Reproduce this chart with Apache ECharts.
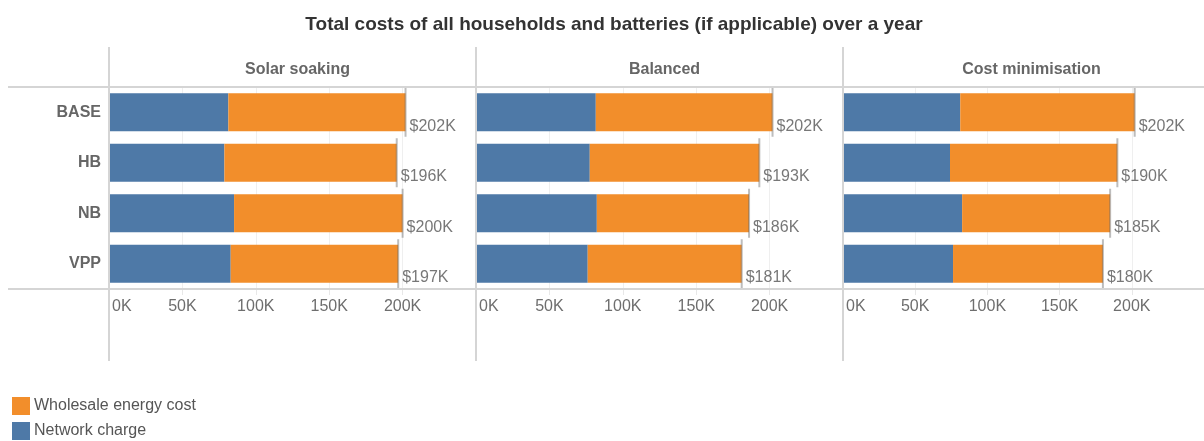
<!DOCTYPE html>
<html>
<head>
<meta charset="utf-8">
<script src="https://cdn.jsdelivr.net/npm/echarts@6/dist/echarts.min.js"></script>
<style>
html,body{margin:0;padding:0;background:#fff;}
#chart{width:1204px;height:441px;}
</style>
</head>
<body>
<div id="chart"></div>
<script>
// ---- data (values in thousands of dollars) ----
const titleText = 'Total costs of all households and batteries (if applicable) over a year';
const categories = ['BASE', 'HB', 'NB', 'VPP'];
const panelNames = ['Solar soaking', 'Balanced', 'Cost minimisation'];
const seriesNames = ['Wholesale energy cost', 'Network charge'];
const xTicks = [0, 50, 100, 150, 200, 250];

const networkSolar = [81.3, 78.6, 85.2, 82.9];
const wholesaleSolar = [120.7, 117.4, 114.8, 114.1];
const totalSolar = [202, 196, 200, 197];

const networkBalanced = [81.6, 77.5, 82.3, 76.1];
const wholesaleBalanced = [120.4, 115.5, 103.7, 104.9];
const totalBalanced = [202, 193, 186, 181];

const networkCostMin = [81.2, 74.1, 82.5, 76.2];
const wholesaleCostMin = [120.8, 115.9, 102.5, 103.8];
const totalCostMin = [202, 190, 185, 180];

// ---- layout / style ----
const FONT = '"Liberation Sans", Arial, sans-serif';
const BLUE = '#4e79a7';
const ORANGE = '#f28e2b';
const panelLeft = [109, 476, 843];
const panelWidth = 367;
const gridTop = 87;
const gridHeight = 202;

const panels = [
  {network: networkSolar, wholesale: wholesaleSolar, total: totalSolar},
  {network: networkBalanced, wholesale: wholesaleBalanced, total: totalBalanced},
  {network: networkCostMin, wholesale: wholesaleCostMin, total: totalCostMin}
];

const grids = [], xAxes = [], yAxes = [], series = [], titles = [];

titles.push({
  text: titleText,
  left: 609, top: 10, textAlign: 'center',
  textStyle: {fontFamily: FONT, fontSize: 19, fontWeight: 'bold', color: '#333'}
});

panels.forEach((p, i) => {
  grids.push({left: panelLeft[i], top: gridTop, width: panelWidth, height: gridHeight, containLabel: false});
  titles.push({
    text: panelNames[i],
    left: panelLeft[i] + panelWidth / 2, top: 57, textAlign: 'center',
    textStyle: {fontFamily: FONT, fontSize: 16, fontWeight: 'bold', color: '#666'}
  });
  xAxes.push({
    type: 'value', gridIndex: i, min: xTicks[0], max: xTicks[xTicks.length - 1], interval: xTicks[1] - xTicks[0],
    axisLine: {show: false},
    axisTick: {show: true, length: 6, lineStyle: {color: '#e8e8e8'}},
    splitLine: {show: true, lineStyle: {color: '#efefef', width: 1}},
    axisLabel: {
      show: true, margin: 10, showMaxLabel: false, alignMinLabel: 'left',
      fontFamily: FONT, fontSize: 16, color: '#6e6e6e',
      formatter: v => v === 0 ? '{z|' + v + 'K}' : v + 'K',
      rich: {z: {fontFamily: FONT, fontSize: 16, color: '#6e6e6e', padding: [0, 0, 0, 3]}}
    }
  });
  yAxes.push({
    type: 'category', gridIndex: i, data: categories, inverse: true,
    axisLine: {show: false}, axisTick: {show: false},
    axisLabel: {
      show: i === 0, margin: 8,
      fontFamily: FONT, fontSize: 16, fontWeight: 'bold', color: '#666'
    }
  });
  series.push({
    name: seriesNames[1], type: 'bar', stack: 's' + i, xAxisIndex: i, yAxisIndex: i,
    data: p.network, itemStyle: {color: BLUE}, barCategoryGap: '25%', silent: true
  });
  series.push({
    name: seriesNames[0], type: 'bar', stack: 's' + i, xAxisIndex: i, yAxisIndex: i,
    data: p.wholesale, itemStyle: {color: ORANGE}, barCategoryGap: '25%', silent: true
  });
  series.push({
    name: 'total' + i, type: 'scatter', xAxisIndex: i, yAxisIndex: i,
    data: p.total.map((t, k) => [t, categories[k]]),
    symbol: 'rect', symbolSize: [2, 49], z: 5, silent: true,
    itemStyle: {color: 'rgba(105,105,105,0.55)'},
    label: {
      show: true, position: 'right', distance: 3, offset: [0, 14],
      fontFamily: FONT, fontSize: 16, color: '#555',
      formatter: d => '$' + d.value[0] + 'K'
    }
  });
});

// frame lines
const LINE = '#d5d5d5';
const graphics = [
  {type: 'line', shape: {x1: 8, y1: gridTop, x2: 1204, y2: gridTop}, style: {stroke: LINE, lineWidth: 2}, z: 10},
  {type: 'line', shape: {x1: 8, y1: gridTop + gridHeight, x2: 1204, y2: gridTop + gridHeight}, style: {stroke: LINE, lineWidth: 2}, z: 10}
];
panelLeft.forEach(x => {
  graphics.push({type: 'line', shape: {x1: x, y1: 47, x2: x, y2: 361}, style: {stroke: LINE, lineWidth: 2}, z: 10});
});

const chart = echarts.init(document.getElementById('chart'), null, {renderer: 'canvas'});
chart.setOption({
  animation: false,
  backgroundColor: '#fff',
  title: titles,
  grid: grids,
  xAxis: xAxes,
  yAxis: yAxes,
  series: series,
  legend: {
    data: seriesNames, orient: 'vertical', left: 12, top: 397,
    icon: 'rect', itemWidth: 18, itemHeight: 18, itemGap: 7, itemStyle: {borderWidth: 0},
    textStyle: {fontFamily: FONT, fontSize: 16, color: '#555', padding: [0, 0, 0, -1]},
    selectedMode: false, padding: 0
  },
  graphic: graphics
});
</script>
</body>
</html>
